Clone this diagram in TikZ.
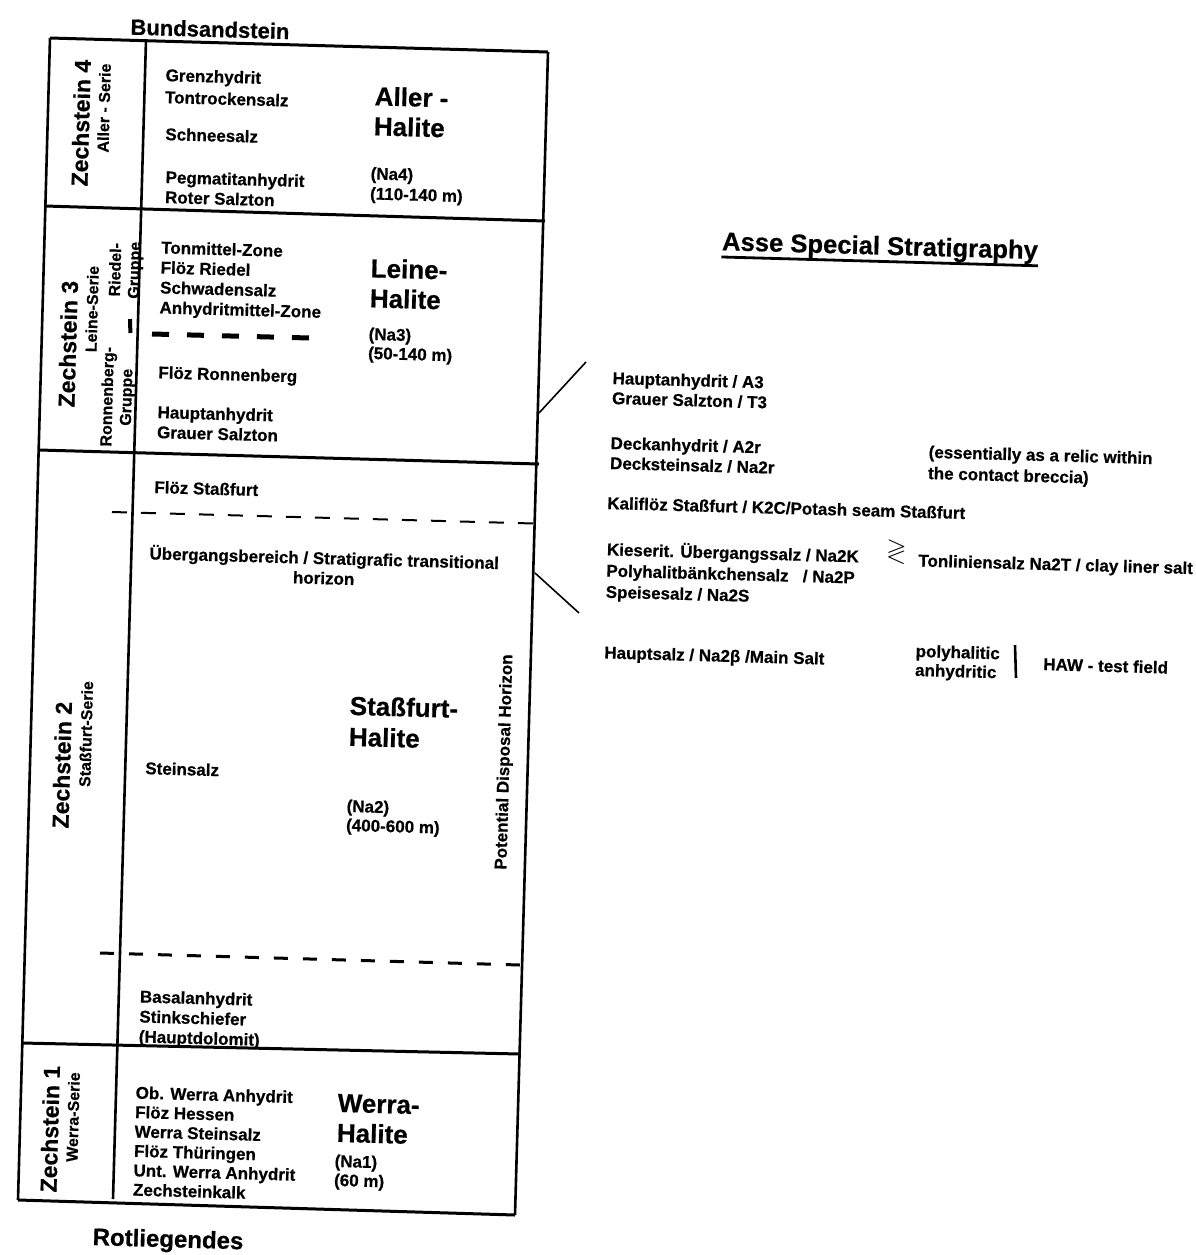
\documentclass[tikz,border=0pt]{standalone}
\usepackage{amssymb}
\usepackage{fontspec}
\setmainfont{Liberation Sans}[BoldFont={Liberation Sans Bold}, BoldFeatures={FakeBold=0.6}]
\usetikzlibrary{calc}
\tikzset{
  sm/.style={font=\bfseries\fontsize{8.5}{10}\selectfont, anchor=west, inner sep=0pt, rotate=-1.6, align=left},
  bg/.style={font=\bfseries\fontsize{13}{15}\selectfont, anchor=west, inner sep=0pt, rotate=-1.6, align=left},
  head/.style={font=\bfseries\fontsize{11}{13}\selectfont, inner sep=0pt, rotate=-1.6},
  zs/.style={font=\bfseries\fontsize{11.5}{13}\selectfont, inner sep=0pt, rotate=88.4},
  ser/.style={font=\bfseries\fontsize{8}{9.5}\selectfont, inner sep=0pt, rotate=88.4},
  frame/.style={line width=1.5pt},
  vline/.style={line width=1.3pt},
  dashA/.style={line width=1pt, dash pattern=on 7.5pt off 7pt},
  dashB/.style={line width=1.5pt, dash pattern=on 7pt off 7.5pt},
  dashC/.style={line width=2.5pt, dash pattern=on 8.5pt off 9pt},
  leader/.style={line width=0.8pt}
}
\begin{document}
\begin{tikzpicture}[x=0.5pt,y=-0.5pt]
\useasboundingbox (0,0) rectangle (1196,1255);
% frame
\coordinate (TL) at (50,38);
\coordinate (TR) at (548,52);
\coordinate (BR) at (515,1215);
\coordinate (BL) at (18,1200);
\coordinate (DT) at (146,40);
\coordinate (DB) at (113,1199);
\draw[frame] (TL) -- (TR);
\draw[frame] (BL) -- (BR);
\draw[vline] (TL) -- (BL);
\draw[vline] (TR) -- (BR);
\draw[vline] (DT) -- (DB);
% boundaries
\draw[frame] (45,206) -- (545,221);
\draw[frame] (39,450) -- (539,464);
\draw[frame] (22,1043) -- (520,1054);
% dashed
\draw[dashA] (112,512) -- (534,523.5);
\draw[dashB] (100,953) -- (520,965);
\draw[dashC] (152,334) -- (310,338);
\draw[line width=2pt] (130,319) -- (130.4,333);

% outside labels
\node[head] (bunt) at (210,29) {Bundsandstein};
\node[head, font=\bfseries\fontsize{12}{14}\selectfont] (rotl) at (168,1241) {Rotliegendes};

% Zechstein 4
\node[zs] (z4) at (81,123) {Zechstein 4};
\node[ser] (z4s) at (104,108) {Aller - Serie};
\node[sm, font=\bfseries\fontsize{8.5}{11}\selectfont] (a1) at (165,86) {Grenzhydrit\\Tontrockensalz};
\node[sm] (a3) at (165,134) {Schneesalz};
\node[sm] (a4) at (165,187) {Pegmatitanhydrit\\Roter Salzton};
\node[bg] (ah1) at (374,111) {Aller -\\Halite};
\node[sm] (an1) at (370,185) {(Na4)\\(110-140 m)};

% Zechstein 3
\node[zs] (z3) at (68,344) {Zechstein 3};
\node[ser] (z3s) at (92,309) {Leine-Serie};
\node[ser, align=center] (rg) at (126,270) {Riedel-\\Gruppe};
\node[ser, align=center] (ro) at (118,397) {Ronnenberg-\\Gruppe};
\node[sm] (l1) at (160,279) {Tonmittel-Zone\\Flöz Riedel\\Schwadensalz\\Anhydritmittel-Zone};
\node[sm] (l5) at (158,374) {Flöz Ronnenberg};
\node[sm] (l6) at (157,422) {Hauptanhydrit\\Grauer Salzton};
\node[bg] (lh1) at (370,283) {Leine-\\Halite};
\node[sm, font=\bfseries\fontsize{8.5}{9.5}\selectfont] (ln1) at (368,345) {(Na3)\\(50-140 m)};

% Zechstein 2
\node[zs] (z2) at (62,765) {Zechstein 2};
\node[ser] (z2s) at (86,734) {Staßfurt-Serie};
\node[sm] (s1) at (154,487) {Flöz Staßfurt};
\node[sm, anchor=center, align=center] (s2) at (324,567) {Übergangsbereich / Stratigrafic transitional\\horizon};
\node[sm] (s3) at (145,768) {Steinsalz};
\node[bg, font=\bfseries\fontsize{13}{15.5}\selectfont] (sh1) at (349,721) {Staßfurt-\\Halite};
\node[sm, font=\bfseries\fontsize{8.5}{9.5}\selectfont] (sn1) at (346,817) {(Na2)\\(400-600 m)};
\node[ser, font=\bfseries\fontsize{8.5}{10}\selectfont] (pdh) at (505,762) {Potential Disposal Horizon};
\node[sm] (b1) at (139,1018) {Basalanhydrit\\Stinkschiefer\\(Hauptdolomit)};

% Zechstein 1
\node[zs] (z1) at (50,1129) {Zechstein 1};
\node[ser] (z1s) at (73,1117) {Werra-Serie};
\node[sm, font=\bfseries\fontsize{8.5}{9.7}\selectfont] (w1) at (134,1141) {Ob. Werra Anhydrit\\Flöz Hessen\\Werra Steinsalz\\Flöz Thüringen\\Unt. Werra Anhydrit\\Zechsteinkalk};
\node[bg] (wh1) at (337,1118) {Werra-\\Halite};
\node[sm, font=\bfseries\fontsize{8.5}{9.5}\selectfont] (wn1) at (334,1172) {(Na1)\\(60 m)};

% right side
\node[head, font=\bfseries\fontsize{12.8}{15}\selectfont] (title) at (880,248) {Asse Special Stratigraphy};
\draw[line width=1.4pt] ($(title.south west)+(0,1)$) -- ($(title.south east)+(0,1)$);
\node[sm] (r1) at (612,388) {Hauptanhydrit / A3\\Grauer Salzton / T3};
\node[sm] (r3) at (610,453) {Deckanhydrit / A2r\\Decksteinsalz / Na2r};
\node[sm, font=\bfseries\fontsize{8.5}{10.6}\selectfont] (r5) at (928,464) {(essentially as a relic within\\the contact breccia)};
\node[sm] (r7) at (607,503) {Kaliflöz Staßfurt / K2C/Potash seam Staßfurt};
\node[sm, font=\bfseries\fontsize{8.5}{10.6}\selectfont] (r8) at (606,571) {Kieserit. Übergangssalz / Na2K\\Polyhalitbänkchensalz \ \ / Na2P\\Speisesalz / Na2S};
\node[sm, font=\fontsize{13}{15}\selectfont] (gl) at (886,551) {$\gtrless$};
\node[sm] (r11) at (918,562) {Tonliniensalz Na2T / clay liner salt};
\node[sm] (r12) at (604,654) {Hauptsalz / Na2β /Main Salt};
\node[sm, font=\bfseries\fontsize{8.5}{9.5}\selectfont] (r13) at (915,662) {polyhalitic\\anhydritic};
\node[sm] (r15) at (1043,664) {HAW - test field};
\draw[line width=1.3pt] (1015,645) -- (1016,678);

% leaders
\coordinate (L1a) at (539,413);
\coordinate (L1b) at (586,362);
\coordinate (L2a) at (535,573);
\coordinate (L2b) at (579,613);
\draw[leader] (L1a) -- (L1b);
\draw[leader] (L2a) -- (L2b);
\end{tikzpicture}
\end{document}
